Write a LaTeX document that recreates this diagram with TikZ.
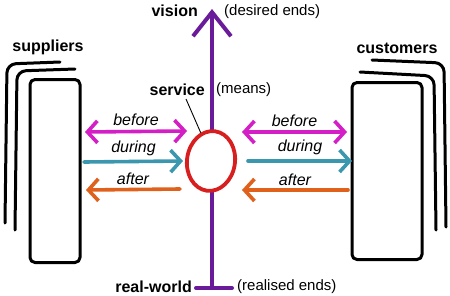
\documentclass[tikz,border=0pt]{standalone}
\usepackage{fontspec}
\setmainfont{Liberation Sans}
\usetikzlibrary{positioning,arrows.meta,shapes.geometric}
\definecolor{visioncol}{HTML}{6A1B9A}
\definecolor{beforecol}{HTML}{D41FC6}
\definecolor{duringcol}{HTML}{3A97AE}
\definecolor{aftercol}{HTML}{DF611C}
\definecolor{servicecol}{HTML}{D81F1F}
\tikzset{
  sketch/.style={line width=3pt, line cap=round, line join=round, rounded corners=5pt},
  layer/.style={sketch, rounded corners=9pt},
  flow/.style={line width=3.6pt, line cap=round, -{Straight Barb[length=10pt,width=22pt]}},
  twoway/.style={line width=3.6pt, line cap=round, {Straight Barb[length=10pt,width=22pt]}-{Straight Barb[length=10pt,width=22pt]}},
  flowlab/.style={font=\fontsize{16}{18}\selectfont\itshape, inner sep=1pt},
  headlab/.style={font=\fontsize{16}{18}\selectfont\bfseries, inner sep=1pt},
  notelab/.style={font=\fontsize{15}{18}\selectfont, inner sep=1pt}
}

\begin{document}
\begin{tikzpicture}[x=1pt, y=-1pt]
  \useasboundingbox (0,0) rectangle (450,295);
  % value axis
  \coordinate (top) at (212,9);
  \coordinate (bot) at (212,288);
  \coordinate (barL) at (196,288);
  \coordinate (barR) at (232,288);
  \draw[visioncol, line width=4pt, line cap=round, -{Straight Barb[length=24pt,width=38pt]}] (bot) -- (top);
  \draw[visioncol, line width=4pt, line cap=round] (barL) -- (barR);
  \node[headlab, anchor=east] (vis) at (199,11) {vision};
  \node[notelab, anchor=west] (visn) at (223,12) {(desired ends)};
  \node[headlab, anchor=east] (rw) at (193,287) {real-world};
  \node[notelab, anchor=west] (rwn) at (236,287) {(realised ends)};

  % service
  \node[ellipse, draw=servicecol, fill=white, line width=3.8pt, minimum width=48, minimum height=60, rotate=-8] (svc) at (211,161) {};
  \node[headlab, anchor=east] (srv) at (206,90) {service};
  \node[notelab, anchor=west] (srvn) at (215,90) {(means)};
  \coordinate (ptr) at (186,99);
  \draw[line width=0.9pt] (ptr) -- (svc.118);

  % suppliers
  \draw[layer] (60,62) -- (7,64) -- (5,223);
  \draw[layer] (75,69) -- (17,71) -- (15,230);
  \node[draw, sketch, fill=white, minimum width=50, minimum height=183] (sup) at (55,171) {};
  \node[headlab] (supl) at (48,47) {suppliers};

  % customers
  \draw[layer] (372,60) -- (444,63) -- (446,227);
  \draw[layer] (360,72) -- (434,76) -- (436,230);
  \node[draw, sketch, fill=white, minimum width=70, minimum height=177] (cus) at (387,171) {};
  \node[headlab] (cusl) at (397,48) {customers};

  % left flows
  \coordinate (lb1) at (85,132);  \coordinate (lb2) at (187,131);
  \coordinate (ld1) at (84,162);  \coordinate (ld2) at (183,161);
  \coordinate (la1) at (180,189); \coordinate (la2) at (86,190);
  \draw[twoway, beforecol] (lb1) -- node[flowlab, black, above=3pt] {before} (lb2);
  \draw[flow, duringcol] (ld1) -- node[flowlab, black, above=3pt] {during} (ld2);
  \draw[flow, aftercol] (la1) -- node[flowlab, black, above=2pt] {after} (la2);

  % right flows
  \coordinate (rb1) at (242,132); \coordinate (rb2) at (347,132);
  \coordinate (rd1) at (248,161); \coordinate (rd2) at (352,161);
  \coordinate (ra1) at (348,190); \coordinate (ra2) at (242,190);
  \draw[twoway, beforecol] (rb1) -- node[flowlab, black, above=3pt] {before} (rb2);
  \draw[flow, duringcol] (rd1) -- node[flowlab, black, above=3pt] {during} (rd2);
  \draw[flow, aftercol] (ra1) -- node[flowlab, black, above=2pt] {after} (ra2);
\end{tikzpicture}
\end{document}
